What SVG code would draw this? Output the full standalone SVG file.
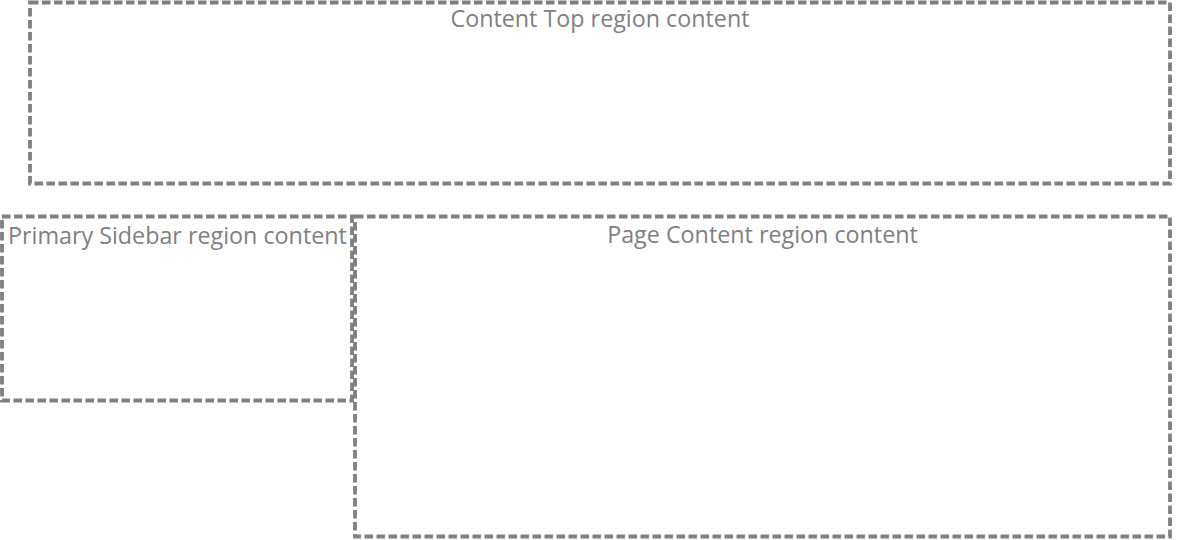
<svg xmlns="http://www.w3.org/2000/svg" width="1200" height="540" viewBox="0 0 1200 540">
<style>
.box{fill:none;stroke:#808080;stroke-width:3.8;stroke-dasharray:8.5 3.5}
.lbl{font-family:"Open Sans","Noto Sans",sans-serif;font-size:23.3px;fill:#808080}
</style>
<rect width="1200" height="540" fill="#ffffff"/>
<g id="content-top">
<rect class="box" x="30" y="2.5" width="1140" height="181"/>
<text class="lbl" x="600" y="27" text-anchor="middle">Content Top region content</text>
</g>
<g id="primary-sidebar">
<rect class="box" x="2" y="216.5" width="350" height="184"/>
<text class="lbl" x="8" y="244">Primary Sidebar region content</text>
</g>
<g id="page-content">
<rect class="box" x="355" y="216.5" width="815" height="320"/>
<text class="lbl" x="762.5" y="243" text-anchor="middle">Page Content region content</text>
</g>
<g id="connectors"/>
</svg>
